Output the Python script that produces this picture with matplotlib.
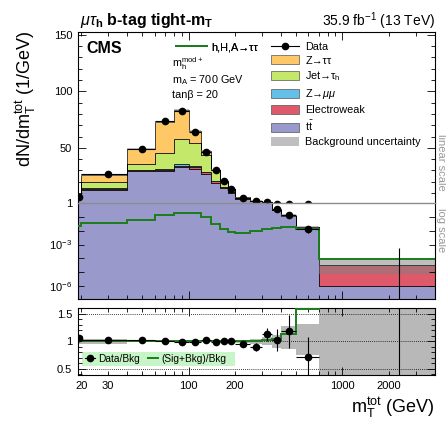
import numpy as np
import matplotlib
matplotlib.use("Agg")
import matplotlib.pyplot as plt
from matplotlib.lines import Line2D
from matplotlib.patches import Patch, Rectangle
from matplotlib.ticker import FixedLocator, FuncFormatter, NullLocator, MultipleLocator

plt.rcParams['font.family'] = ['Liberation Sans', 'DejaVu Sans']
plt.rcParams['mathtext.fontset'] = 'custom'
plt.rcParams['mathtext.rm'] = 'Liberation Sans'
plt.rcParams['mathtext.it'] = 'Liberation Sans:italic'
plt.rcParams['mathtext.bf'] = 'Liberation Sans:bold'
plt.rcParams['mathtext.sf'] = 'Liberation Sans'

# ---------------- data ----------------
bin_edges = [19, 20, 40, 60, 80, 100, 120, 140, 160, 180, 200, 250, 300, 350, 400, 500, 700, 4000]

ttbar = [5.0, 12.5, 29.3, 29.5, 32.8, 31.3, 26.9, 19.2, 14.2, 9.8, 5.2, 2.9, 1.55, 0.31, 0.11, 0.016, 1.0e-6]
ewk   = [0.4, 1.5, 1.0, 1.3, 1.4, 1.7, 2.0, 1.5, 1.5, 1.0, 0.5, 0.3, 0.15, 0.03, 0.013, 0.0015, 3.4e-5]
zmm   = [0.05, 0.2, 0.1, 0.2, 1.2, 1.2, 0.1, 0.1, 0.05, 0.05, 0.02, 0.01, 0.005, 0.001, 0.0005, 0.00005, 1e-8]
jet   = [0.6, 5.3, 5.3, 14.7, 22.4, 19.8, 14.9, 9.3, 4.3, 2.6, 0.4, 0.1, 0.05, 0.008, 0.003, 0.0004, 1e-7]
ztt   = [0.5, 6.5, 13.2, 26.8, 25.5, 11.1, 3.5, 0.5, 0.25, 0.15, 0.08, 0.02, 0.01, 0.002, 0.001, 0.0001, 5e-8]

signal = [0.022, 0.038, 0.060, 0.14, 0.206, 0.186, 0.095, 0.031, 0.0126, 0.0085, 0.0072,
          0.0095, 0.0133, 0.0165, 0.0196, 0.0127, 8.6e-5]

data        = [6.9, 26.6, 48.6, 73.6, 82.7, 64.2, 46.0, 30.0, 20.3, 13.7, 5.9, 3.0, 2.0, 0.36, 0.15, 0.013, 0.0]
data_err_lo = [2.6, 1.15, 1.56, 1.9, 2.0, 1.8, 1.5, 1.2, 1.0, 0.83, 0.34, 0.24, 0.2, 0.085, 0.039, 0.0065, 0.0]
data_err_hi = [2.6, 1.15, 1.56, 1.9, 2.0, 1.8, 1.5, 1.2, 1.0, 0.83, 0.34, 0.24, 0.2, 0.085, 0.039, 0.008, 5.6e-4]

unc_up = [0.05, 0.045, 0.015, 0.012, 0.012, 0.012, 0.015, 0.02, 0.02, 0.025, 0.03, 0.05, 0.07, 0.12, 0.27, 0.32, 1.4]
unc_dn = [0.05, 0.045, 0.015, 0.012, 0.012, 0.012, 0.015, 0.02, 0.02, 0.025, 0.03, 0.05, 0.07, 0.12, 0.14, 0.25, 0.8]

ratio        = [1.06, 1.03, 1.02, 1.01, 0.99, 0.98, 1.02, 0.98, 1.0, 1.01, 0.96, 0.90, 1.13, 1.03, 1.18, 0.72, 0.0]
ratio_err_lo = [0.04, 0.02, 0.015, 0.012, 0.012, 0.013, 0.016, 0.02, 0.025, 0.03, 0.035, 0.07, 0.12, 0.2, 0.3, 0.35, 0.0]
ratio_err_hi = [0.04, 0.02, 0.015, 0.012, 0.012, 0.013, 0.016, 0.02, 0.025, 0.03, 0.035, 0.07, 0.12, 0.2, 0.3, 0.35, 16.0]

sb_ratio = [1.0, 1.0, 1.0, 1.0, 1.0, 1.0, 1.0, 1.0, 1.0, 1.0, 1.0, 1.0, 1.02, 1.05, 1.14, 1.58, 3.5]

components = ["t$\\bar{\\mathrm{t}}$", "Electroweak", "Z\u2192$\\mu\\mu$", "Jet\u2192\u03c4$_\\mathrm{h}$", "Z\u2192\u03c4\u03c4"]
comp_values = [ttbar, ewk, zmm, jet, ztt]
comp_colors = ["#9999cc", "#de5a6a", "#64c0e8", "#c4e86a", "#fdc865"]
sig_color = "#1b7d1b"

edges = np.array(bin_edges, dtype=float)
centers = 0.5 * (edges[:-1] + edges[1:])
halfw = 0.5 * (edges[1:] - edges[:-1])
total = np.sum(np.array(comp_values), axis=0)
data_arr = np.array(data)

# ---------------- figure ----------------
W, H = 446, 421
fig = plt.figure(figsize=(W / 100, H / 100), dpi=100)

def fbox(x0, y0, x1, y1):
    return [x0 / W, 1 - y1 / H, (x1 - x0) / W, (y1 - y0) / H]

ax_lin = fig.add_axes(fbox(77.7, 32.5, 435, 203.3))
ax_log = fig.add_axes(fbox(77.7, 203.3, 435, 298.5))
ax_r = fig.add_axes(fbox(77.7, 307.7, 435, 375))

for ax in (ax_lin, ax_log, ax_r):
    ax.set_xscale('log')
    ax.set_xlim(19, 4000)
    for s in ax.spines.values():
        s.set_linewidth(0.8)

ax_lin.set_ylim(1, 152)
ax_log.set_yscale('log')
ax_log.set_ylim(1.2e-7, 1)
ax_r.set_ylim(0.39, 1.61)

# stacks
for ax, floor in ((ax_lin, 0.0), (ax_log, 1e-12)):
    bottom = np.full(len(centers), floor)
    for vals, col in zip(comp_values, comp_colors):
        top = bottom + np.array(vals)
        ax.stairs(top, edges, baseline=bottom, fill=True, facecolor=col,
                  edgecolor='black', linewidth=0.5)
        bottom = top
    ax.stairs(total * (1 + np.array(unc_up)), edges, baseline=total * (1 - np.array(unc_dn)),
              fill=True, facecolor='#7f7f7f', alpha=0.5, linewidth=0)

# data: linear part only shows non-empty bins; log part also shows the empty-bin error bar
nz = data_arr > 0
ax_lin.errorbar(centers[nz], data_arr[nz], xerr=halfw[nz],
                yerr=[np.array(data_err_lo)[nz], np.array(data_err_hi)[nz]], fmt='o',
                color='black', ms=4.5, elinewidth=0.8, capsize=0, zorder=5)
ax_log.errorbar(centers, data, xerr=halfw, yerr=[data_err_lo, data_err_hi], fmt='o',
                color='black', ms=4.5, elinewidth=0.8, capsize=0, zorder=5)

ax_log.stairs(signal, edges, baseline=None, color=sig_color, linewidth=1.4, zorder=4)

# boundary between linear and log parts
ax_lin.spines['bottom'].set_visible(False)
ax_log.spines['top'].set_color('#8c8c8c')
ax_log.spines['top'].set_linewidth(1.0)

# ratio panel
ax_r.stairs(1 + np.array(unc_up), edges, baseline=1 - np.array(unc_dn), fill=True,
            facecolor='#7f7f7f', alpha=0.55, linewidth=0)
for yv in (0.5, 1.0, 1.5):
    ax_r.axhline(yv, color='black', linestyle=(0, (1, 1.5)), linewidth=0.6, zorder=1)
ax_r.stairs(sb_ratio, edges, baseline=None, color=sig_color, linewidth=1.4, zorder=4)
ax_r.errorbar(centers, ratio, xerr=halfw, yerr=[ratio_err_lo, ratio_err_hi], fmt='o',
              color='black', ms=4.5, elinewidth=0.8, capsize=0, zorder=5)

# ticks
major_x = [100, 1000]
minor_x = [20, 30, 40, 50, 60, 70, 80, 90, 200, 300, 400, 500, 600, 700, 800, 900, 2000, 3000]
lab_minor = (20, 30, 200, 2000)
for ax in (ax_lin, ax_log, ax_r):
    ax.xaxis.set_major_locator(FixedLocator(major_x))
    ax.xaxis.set_minor_locator(FixedLocator(minor_x))
    ax.xaxis.set_major_formatter(FuncFormatter(lambda v, p: '%d' % round(v)))
    ax.xaxis.set_minor_formatter(FuncFormatter(lambda v, p: ('%d' % round(v)) if round(v) in lab_minor else ''))
    ax.tick_params(which='both', direction='in', top=True, right=True, labelsize=8, width=0.6, pad=4)
    ax.tick_params(which='major', length=6)
    ax.tick_params(which='minor', length=3)
ax_lin.tick_params(which='both', bottom=False, labelbottom=False)
ax_log.tick_params(axis='x', which='both', top=False, labelbottom=False)
ax_r.tick_params(axis='x', which='both', labelbottom=True, pad=4)

ax_lin.yaxis.set_major_locator(FixedLocator([50, 100, 150]))
ax_lin.yaxis.set_minor_locator(MultipleLocator(10))

ax_log.yaxis.set_major_locator(FixedLocator([1e-7, 1e-6, 1e-5, 1e-4, 1e-3, 1e-2, 1e-1, 1]))
ax_log.yaxis.set_minor_locator(NullLocator())
log_labels = {0: '1', -3: '$10^{-3}$', -6: '$10^{-6}$'}
ax_log.yaxis.set_major_formatter(FuncFormatter(lambda v, p: log_labels.get(int(round(np.log10(v))), '')))
ax_log.tick_params(axis='y', which='major', length=4)

ax_r.yaxis.set_major_locator(FixedLocator([0.5, 1.0, 1.5]))
ax_r.yaxis.set_major_formatter(FuncFormatter(lambda v, p: {0.5: '0.5', 1.0: '1', 1.5: '1.5'}.get(round(v, 1), '')))
ax_r.yaxis.set_minor_locator(MultipleLocator(0.1))

# legends (main)
handles_r = [Line2D([], [], color='black', marker='o', ms=4.5, lw=0.8)]
labels_r = ['Data']
for lab, col in zip(components[::-1], comp_colors[::-1]):
    handles_r.append(Patch(facecolor=col, edgecolor='#555555', linewidth=0.5))
    labels_r.append(lab)
handles_r.append(Patch(facecolor='#bfbfbf', edgecolor='none'))
labels_r.append('Background uncertainty')
leg1 = ax_lin.legend(handles_r, labels_r, loc='upper left',
                     bbox_to_anchor=(270.7 / W, 1 - 41.5 / H), bbox_transform=fig.transFigure,
                     frameon=False, fontsize=7.8, handlelength=2.65, handleheight=0.85,
                     labelspacing=0.36, handletextpad=0.55, borderpad=0, borderaxespad=0)
ax_lin.add_artist(leg1)
leg2 = ax_lin.legend([Line2D([], [], color=sig_color, lw=1.4)], ['h,H,A\u2192\u03c4\u03c4'],
                     loc='upper left', bbox_to_anchor=(176 / W, 1 - 42 / H),
                     bbox_transform=fig.transFigure, frameon=False, fontsize=7.8,
                     handlelength=2.85, handletextpad=0.45, borderpad=0, borderaxespad=0)
ax_lin.add_artist(leg2)

for txt, yb in (("m$_\\mathrm{h}^\\mathrm{mod+}$", 67.5), ("m$_\\mathrm{A}$ = 700 GeV", 83.0),
                ("tan\u03b2 = 20", 98.5)):
    fig.text(171.7 / W, 1 - yb / H, txt, fontsize=7.8, ha='left', va='baseline')

# ratio legend
ax_r.add_patch(Rectangle((4.0 / 357.3, 9.0 / 67.3), 153.3 / 357.3, 14.3 / 67.3,
                         transform=ax_r.transAxes, facecolor='#c8f5c8', edgecolor='none', zorder=1.5))
leg3 = ax_r.legend([Line2D([], [], color='black', marker='o', ms=4.5, lw=0.8),
                    Line2D([], [], color=sig_color, lw=1.4)],
                   ['Data/Bkg', '(Sig+Bkg)/Bkg'], ncol=2, loc='center left',
                   bbox_to_anchor=(84.5 / W, 1 - 358.8 / H), bbox_transform=fig.transFigure,
                   frameon=False, fontsize=7.3, handlelength=1.0, handletextpad=0.35,
                   columnspacing=0.8, borderpad=0, borderaxespad=0)

# texts
fig.text(80 / W, 1 - 25 / H, "$\\mu\\tau_\\mathbf{h}$ b-tag tight-m$_\\mathbf{T}$",
         fontsize=11.5, fontweight='bold', ha='left', va='baseline')
fig.text(435 / W, 1 - 26 / H, "35.9 fb$^{-1}$ (13 TeV)", fontsize=10, ha='right', va='baseline')
fig.text(86.5 / W, 1 - 53.3 / H, "CMS", fontsize=11.5, fontweight='bold', ha='left', va='baseline')
fig.text(26 / W, 1 - 30 / H, "dN/dm$_\\mathrm{T}^\\mathrm{tot}$ (1/GeV)", fontsize=13,
         rotation=90, ha='center', va='top')
fig.text(435 / W, 1 - 413 / H, "m$_\\mathrm{T}^\\mathrm{tot}$ (GeV)", fontsize=13,
         ha='right', va='baseline')
fig.text(441 / W, 1 - 162 / H, "linear scale", fontsize=8, color='#999999', rotation=270,
         ha='center', va='center')
fig.text(441 / W, 1 - 230 / H, "log scale", fontsize=8, color='#999999', rotation=270,
         ha='center', va='center')

fig.savefig("out.png", dpi=100)
